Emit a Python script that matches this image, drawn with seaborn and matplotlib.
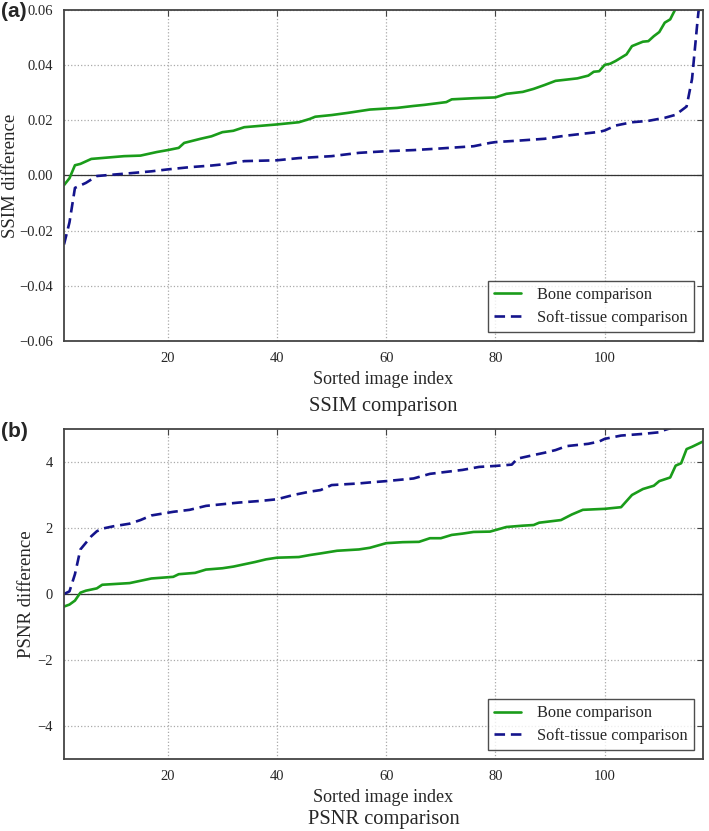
"""SSIM / PSNR difference curves, sorted by image index."""
import numpy as np
import pandas as pd
import matplotlib
matplotlib.use("Agg")
import matplotlib.pyplot as plt
import seaborn as sns

# (a) SSIM difference, sorted per series
ssim_bone_idx = [1, 2, 3, 4, 6, 9, 12, 15, 18, 20, 22, 23, 26, 28, 30, 32, 34, 37, 40, 44,
                 46, 47, 50, 53, 55, 57, 62, 65, 67, 71, 72, 76, 80, 82, 85, 87, 89, 91, 95, 97,
                 98, 99, 100, 101, 102, 104, 105, 107, 108, 109, 110, 111, 112, 113, 114, 115,
                 116, 117, 118]
ssim_bone = [-0.0035, -0.001, 0.0037, 0.0042, 0.006, 0.0065, 0.007, 0.0072, 0.0085, 0.0092,
             0.010, 0.0118, 0.0133, 0.0142, 0.0157, 0.0162, 0.0175, 0.018, 0.0185, 0.0193,
             0.0205, 0.0213, 0.0219, 0.0227, 0.0233, 0.0239, 0.0245, 0.0252, 0.0256, 0.0266,
             0.0276, 0.028, 0.0283, 0.0296, 0.0303, 0.0314, 0.0328, 0.0343, 0.0352, 0.0362,
             0.0376, 0.0378, 0.0401, 0.0405, 0.0415, 0.0439, 0.0469, 0.0485, 0.0487, 0.0505,
             0.052, 0.0554, 0.0566, 0.0605, 0.064, 0.068, 0.072, 0.078, 0.085]
ssim_soft_idx = [1, 2, 3, 5, 7, 10, 13, 17, 20, 24, 28, 31, 34, 40, 44, 50, 55, 60, 65, 70,
                 76, 79, 80, 84, 89, 92, 95, 99, 100, 102, 105, 108, 111, 113, 114, 115, 116,
                 117, 118]
ssim_soft = [-0.025, -0.017, -0.0045, -0.0027, -0.0002, 0.0003, 0.0008, 0.0015, 0.0022,
             0.003, 0.0036, 0.0042, 0.0052, 0.0055, 0.0063, 0.007, 0.0082, 0.0088, 0.0092,
             0.0098, 0.0106, 0.0118, 0.0121, 0.0126, 0.0133, 0.0142, 0.0149, 0.0158, 0.0163,
             0.0181, 0.0193, 0.0198, 0.0209, 0.022, 0.0235, 0.025, 0.035, 0.056, 0.075]

# (b) PSNR difference
psnr_bone_idx = [1, 2, 3, 4, 5, 7, 8, 10, 13, 15, 17, 21, 22, 25, 27, 30, 32, 34, 36, 38,
                 40, 44, 46, 48, 51, 55, 57, 60, 63, 66, 68, 70, 72, 74, 76, 79, 82, 85, 87,
                 88, 92, 94, 96, 100, 103, 105, 107, 109, 110, 112, 113, 114, 115, 116, 118]
psnr_bone = [-0.38, -0.32, -0.2, 0.04, 0.1, 0.17, 0.28, 0.3, 0.33, 0.4, 0.47, 0.52, 0.6,
             0.64, 0.74, 0.78, 0.83, 0.9, 0.97, 1.05, 1.1, 1.12, 1.18, 1.23, 1.31, 1.35, 1.4,
             1.54, 1.57, 1.58, 1.69, 1.69, 1.79, 1.83, 1.88, 1.89, 2.03, 2.07, 2.09, 2.16,
             2.24, 2.41, 2.55, 2.58, 2.63, 3.0, 3.18, 3.28, 3.42, 3.53, 3.89, 3.96, 4.39,
             4.46, 4.62]
psnr_soft_idx = [1, 2, 3, 4, 5, 6, 7, 8, 10, 13, 15, 17, 21, 24, 27, 30, 33, 37, 40, 43,
                 46, 48, 50, 55, 57, 60, 65, 68, 72, 74, 77, 80, 83, 84, 87, 89, 91, 93, 97,
                 99, 100, 103, 107, 110, 111, 112, 114, 116, 118]
psnr_soft = [0.0, 0.08, 0.6, 1.35, 1.55, 1.75, 1.9, 1.98, 2.05, 2.13, 2.24, 2.38, 2.49,
             2.55, 2.67, 2.72, 2.77, 2.82, 2.87, 3.0, 3.1, 3.15, 3.3, 3.35, 3.38, 3.42, 3.5,
             3.64, 3.72, 3.76, 3.85, 3.88, 3.92, 4.1, 4.21, 4.28, 4.36, 4.48, 4.55, 4.62,
             4.7, 4.8, 4.85, 4.9, 4.97, 5.02, 5.15, 5.3, 5.5]

x_ticks = [20, 40, 60, 80, 100]
bone_label = "Bone comparison"
soft_label = "Soft-tissue comparison"

GREEN = "#1a9c1a"
NAVY = "#14148c"

sns.set_style("white")
plt.rcParams["font.family"] = ["Liberation Serif", "DejaVu Serif"]


def _panel(fig, rect, bone_x, bone_y, soft_x, soft_y, ylim, yticks, ylabel, title, tag,
           tag_y, title_y, fmt, ylab_x):
    ax = fig.add_axes(rect)
    ax.axhline(0, color="#333333", lw=0.9, zorder=1)
    sns.lineplot(x=bone_x, y=bone_y, ax=ax, color=GREEN, lw=1.9, label=bone_label)
    sns.lineplot(x=soft_x, y=soft_y, ax=ax, color=NAVY, lw=1.9,
                 linestyle=(0, (4, 2.2)), label=soft_label)
    ax.set_xlim(1, 118)
    ax.set_ylim(*ylim)
    ax.set_xticks(x_ticks)
    ax.set_yticks(yticks)
    ax.yaxis.set_major_formatter(matplotlib.ticker.FuncFormatter(
        lambda v, p: (fmt % v).replace("-", "\u2212")))
    ax.grid(True, ls=":", color="#aaaaaa", lw=0.9)
    ax.tick_params(direction="in", length=4, width=0.8, top=True, right=True,
                   labelsize=10.5, color="#444444", pad=8)
    for s in ax.spines.values():
        s.set_color("#444444")
        s.set_linewidth(1.3)
    ax.set_xlabel("Sorted image index", fontsize=13, labelpad=4)
    ax.set_ylabel(ylabel, fontsize=13.5)
    ax.yaxis.set_label_coords(ylab_x, 0.5)
    leg = ax.legend(loc="lower right", fontsize=11.8, frameon=True, fancybox=False,
                    borderpad=0.38, handlelength=1.6, handletextpad=1.0,
                    labelspacing=0.4, borderaxespad=0.55)
    leg.get_frame().set_edgecolor("#222222")
    leg.get_frame().set_linewidth(1.0)
    ax.text(0.5, title_y, title, transform=ax.transAxes, ha="center", va="center",
            fontsize=14.8)
    fig.text(0.001, tag_y, tag, ha="left", va="top",
             fontsize=15, fontweight="bold", family=["Liberation Sans", "DejaVu Sans"])
    return ax


fig = plt.figure(figsize=(7.09, 8.31), dpi=100)
_panel(fig, [0.0903, 0.5897, 0.9012, 0.3983], ssim_bone_idx, ssim_bone, ssim_soft_idx,
       ssim_soft, (-0.06, 0.06), [-0.06, -0.04, -0.02, 0.0, 0.02, 0.04, 0.06],
       "SSIM difference", "SSIM comparison", "(a)", 0.998, -0.197, "%.2f", -0.071)
_panel(fig, [0.0903, 0.0866, 0.9012, 0.3972], psnr_bone_idx, psnr_bone, psnr_soft_idx,
       psnr_soft, (-5, 5), [-4, -2, 0, 2, 4], "PSNR difference", "PSNR comparison", "(b)",
       0.492, -0.182, "%d", -0.045)
fig.savefig("out.png", dpi=100)
